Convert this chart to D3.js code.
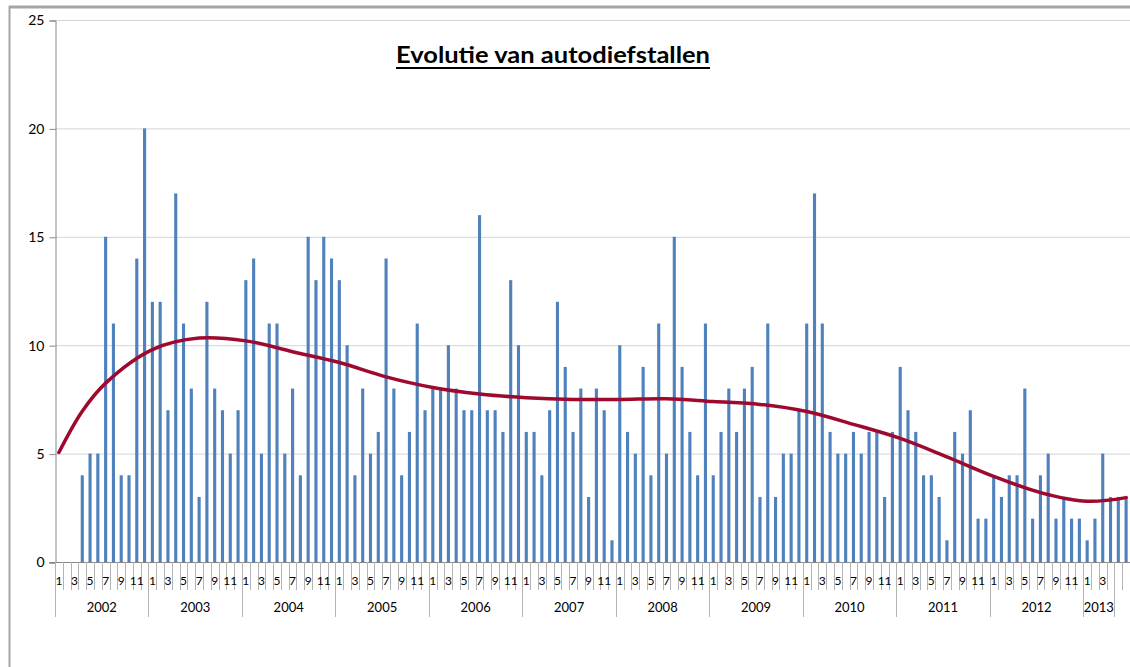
<!DOCTYPE html>
<html>
<head>
<meta charset="utf-8">
<script src="https://cdn.jsdelivr.net/npm/d3@7"></script>
<style>
  body { margin: 0; background: #fff; }
  text { font-family: Lato, "Open Sans", sans-serif; fill: #000; }
</style>
</head>
<body>
<svg id="svg"></svg>
<script>
// monthly counts, 2002-01 .. 2013-06 (first three months blank)
const counts = [
    null, null, null, 4, 5, 5, 15, 11, 4, 4, 14, 20,   // 2002
    12, 12, 7, 17, 11, 8, 3, 12, 8, 7, 5, 7,           // 2003
    13, 14, 5, 11, 11, 5, 8, 4, 15, 13, 15, 14,        // 2004
    13, 10, 4, 8, 5, 6, 14, 8, 4, 6, 11, 7,            // 2005
    8, 8, 10, 8, 7, 7, 16, 7, 7, 6, 13, 10,            // 2006
    6, 6, 4, 7, 12, 9, 6, 8, 3, 8, 7, 1,               // 2007
    10, 6, 5, 9, 4, 11, 5, 15, 9, 6, 4, 11,            // 2008
    4, 6, 8, 6, 8, 9, 3, 11, 3, 5, 5, 7,               // 2009
    11, 17, 11, 6, 5, 5, 6, 5, 6, 6, 3, 6,             // 2010
    9, 7, 6, 4, 4, 3, 1, 6, 5, 7, 2, 2,                // 2011
    4, 3, 4, 4, 8, 2, 4, 5, 2, 3, 2, 2,                // 2012
    1, 2, 5, 3, 3, 3                                   // 2013
];

// category groups on the axis (last two months have no label)
const years = ["2002", "2003", "2004", "2005", "2006", "2007", "2008", "2009", "2010", "2011", "2012", "2013", ""];
const yearLengths = [12, 12, 12, 12, 12, 12, 12, 12, 12, 12, 12, 4, 2];

// polynomial trend at some month indices
const trendIdx = [0, 3, 6, 12, 18, 24, 30, 36, 42, 48, 54, 60, 66, 72, 78, 84, 90, 96, 102, 108, 114, 120, 126, 132, 137];
const trendVal = [5.05, 6.95, 8.25, 9.8, 10.33, 10.2, 9.7, 9.2, 8.54, 8.05, 7.75, 7.58, 7.5, 7.5, 7.53, 7.4, 7.27, 6.94, 6.35, 5.7, 4.85, 3.95, 3.2, 2.8, 2.97];

const yTicks = [0, 5, 10, 15, 20, 25];
const title = "Evolutie van autodiefstallen";

const W = 1130, H = 667;
const plotLeft = 55, plotRight = 1130, plotTop = 20, plotBottom = 562;

const svg = d3.select("svg")
    .attr("width", W)
    .attr("height", H);

// chart frame
svg.append("line")
    .attr("x1", 9.5).attr("x2", 9.5).attr("y1", 6).attr("y2", H)
    .attr("stroke", "#a6a6a6").attr("stroke-width", 2);
svg.append("line")
    .attr("x1", 9).attr("x2", W).attr("y1", 7).attr("y2", 7)
    .attr("stroke", "#a6a6a6").attr("stroke-width", 3);

const x = d3.scaleBand()
    .domain(d3.range(counts.length))
    .range([plotLeft, plotRight])
    .paddingInner(0.6)
    .paddingOuter(0.3);

const step = x.step();
const cx = i => x(i) + x.bandwidth() / 2;

const y = d3.scaleLinear()
    .domain([0, 25])
    .range([plotBottom, plotTop]);

// gridlines
svg.append("g")
    .selectAll("line")
    .data(yTicks.filter(d => d > 0))
    .join("line")
        .attr("x1", plotLeft).attr("x2", plotRight)
        .attr("y1", d => y(d) + 0.5).attr("y2", d => y(d) + 0.5)
        .attr("stroke", "#d4d4d4");

// y axis
const yAxis = svg.append("g")
    .attr("transform", `translate(${plotLeft + 0.5},0.5)`)
    .call(d3.axisLeft(y).tickValues(yTicks).tickSize(6).tickPadding(5));
yAxis.select(".domain").attr("stroke", "#868686");
yAxis.selectAll(".tick line").attr("stroke", "#868686");
yAxis.selectAll(".tick text")
    .attr("font-family", "Lato, sans-serif")
    .attr("font-size", 14)
    .attr("fill", "#000");

// bars
svg.append("g")
    .selectAll("rect")
    .data(counts.map((v, i) => ({ v, i })).filter(d => d.v != null))
    .join("rect")
        .attr("x", d => x(d.i))
        .attr("width", x.bandwidth())
        .attr("y", d => y(d.v))
        .attr("height", d => y(0) - y(d.v))
        .attr("fill", "#4f81bd");

// x axis line
svg.append("line")
    .attr("x1", plotLeft - 6).attr("x2", plotRight)
    .attr("y1", plotBottom + 0.5).attr("y2", plotBottom + 0.5)
    .attr("stroke", "#868686");

// multi-level category axis
let start = 0;
const groups = years.map((yr, k) => {
    const g = { year: yr, start, len: yearLengths[k] };
    start += yearLengths[k];
    return g;
});

const cat = svg.append("g");
const yearStarts = new Set(groups.map(g => g.start).concat([counts.length]));

d3.range(counts.length + 1).forEach(k => {
    const xx = Math.round(plotLeft + k * step) + 0.5;
    cat.append("line")
        .attr("x1", xx).attr("x2", xx)
        .attr("y1", plotBottom).attr("y2", yearStarts.has(k) ? 617 : 590)
        .attr("stroke", "#b4b4b4");
});

groups.forEach(g => {
    if (!g.year) return;
    d3.range(g.len).forEach(m => {
        if (m % 2 === 0) {
            cat.append("text")
                .attr("x", cx(g.start + m))
                .attr("y", 585)
                .attr("text-anchor", "middle")
                .attr("font-size", 12)
                .text(m + 1);
        }
    });
    cat.append("text")
        .attr("x", plotLeft + (g.start + g.len / 2) * step)
        .attr("y", 612)
        .attr("text-anchor", "middle")
        .attr("font-size", 13)
        .text(g.year);
});

// trend line
const line = d3.line()
    .x((d, k) => cx(trendIdx[k]))
    .y(d => y(d))
    .curve(d3.curveCatmullRom.alpha(0.5));

svg.append("path")
    .datum(trendVal)
    .attr("d", line)
    .attr("fill", "none")
    .attr("stroke", "#9e0a2e")
    .attr("stroke-width", 3.5)
    .attr("stroke-linecap", "round");

// title
svg.append("text")
    .attr("x", 553)
    .attr("y", 63)
    .attr("text-anchor", "middle")
    .attr("font-size", 23)
    .attr("font-weight", "bold")
    .attr("textLength", 314)
    .attr("lengthAdjust", "spacingAndGlyphs")
    .text(title);

svg.append("line")
    .attr("x1", 396).attr("x2", 710)
    .attr("y1", 68).attr("y2", 68)
    .attr("stroke", "#000")
    .attr("stroke-width", 2);
</script>
</body>
</html>
